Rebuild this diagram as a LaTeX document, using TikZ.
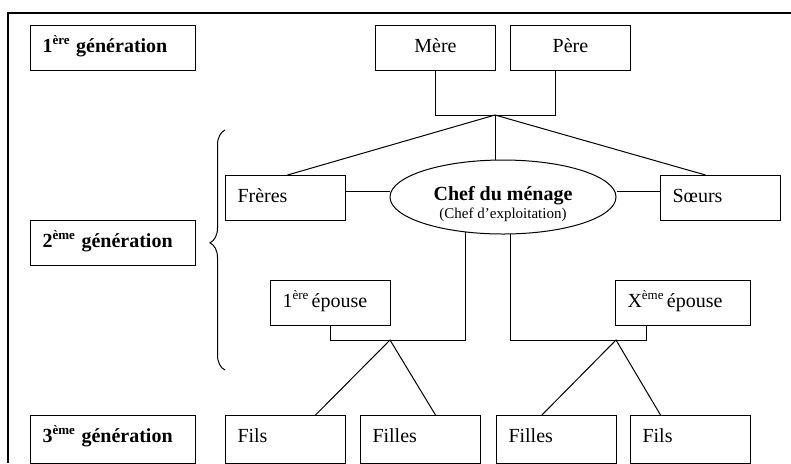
\documentclass[tikz,border=0pt]{standalone}
\usepackage{fontspec}
\setmainfont{Liberation Serif}
\usetikzlibrary{calc, shapes.geometric, decorations.pathreplacing}

\newcommand{\expo}[1]{\raisebox{0.85ex}{\fontsize{6.5}{6.5}\selectfont #1}}

\tikzset{
    box/.style={draw, line width=0.5pt, anchor=north west, inner xsep=6pt, inner ysep=0pt,
        text height=13.3pt, text depth=9.2pt, text width=48pt, align=left},
    genbox/.style={box, text width=70.5pt, font=\bfseries},
    kidbox/.style={box, text depth=10.7pt},
    link/.style={line width=0.5pt},
}

\begin{document}
\begin{tikzpicture}[x=0.5pt, y=-0.5pt]
                \useasboundingbox (0,0) rectangle (791,463);
                \clip (0,0) rectangle (791,463);
                \draw[line width=1.2pt] (791,13) -- (8,13) -- (8,463);

                \foreach \y/\n/\s/\d in {25/1/ère/9.2, 220/2/ème/9.2, 415/3/ème/10.7}{
                    \node[genbox, text depth=\d pt] (gen\n) at (30,\y) {\n\expo{\s} génération};
                }
                \node[box, align=center] (mere) at (375,25) {Mère};
                \node[box, align=center] (pere) at (510,25) {Père};
                \node[box] (freres) at (225,175) {Frères};
                \node[box] (soeurs) at (660,175) {Sœurs};
                \node[draw, ellipse, line width=0.5pt, minimum width=113pt, minimum height=37pt, inner sep=0pt,
                    align=center, text height=23.5pt, text depth=2.5pt, font=\fontsize{10}{9}\selectfont] (chef) at (503,197)
                    {\textbf{Chef du ménage}\\{\fontsize{7.5}{9}\selectfont (Chef d’exploitation)}};
                \node[box] (ep1) at (270,280) {1\expo{ère}\,épouse};
                \node[box, text width=55.5pt] (epx) at (615,280) {X\expo{ème}\,épouse};
                \foreach \x/\name/\txt in {225/fils1/Fils, 360/filles1/Filles, 496/filles2/Filles, 630/fils2/Fils}{
                    \node[kidbox] (\name) at (\x,415) {\txt};
                }

                \coordinate (jpar) at (495,115);
                \coordinate (j1) at (390,340);
                \coordinate (j2) at (616,340);

                \draw[link] (mere.south) |- (jpar) -| ([xshift=-7.5pt]pere.south);
                \draw[link] ([xshift=1pt]freres.north) -- (jpar) -- ([xshift=-7.5pt]soeurs.north);
                \draw[link] (jpar) -- (jpar |- chef.north);
                \draw[link] ([yshift=3.4pt]freres.east) -- ([yshift=3.4pt]freres.east -| chef.west);
                \draw[link] ([yshift=3.4pt]soeurs.west) -- ([yshift=3.4pt]soeurs.west -| chef.east);
                \draw[link] (chef.-137) |- (j1) -| (ep1.south);
                \draw[link] (chef.-79) |- (j2) -| ([xshift=-18.4pt]epx.south);
                \draw[link] ([xshift=15pt]fils1.north) -- (j1) -- ([xshift=7.5pt]filles1.north);
                \draw[link] ([xshift=-7.3pt]filles2.north) -- (j2) -- ([xshift=-15pt]fils2.north);
                \draw[link, decorate, decoration={brace, amplitude=7.5pt, aspect=0.53}] (225,370) -- (225,130);
            \end{tikzpicture}
\end{document}
